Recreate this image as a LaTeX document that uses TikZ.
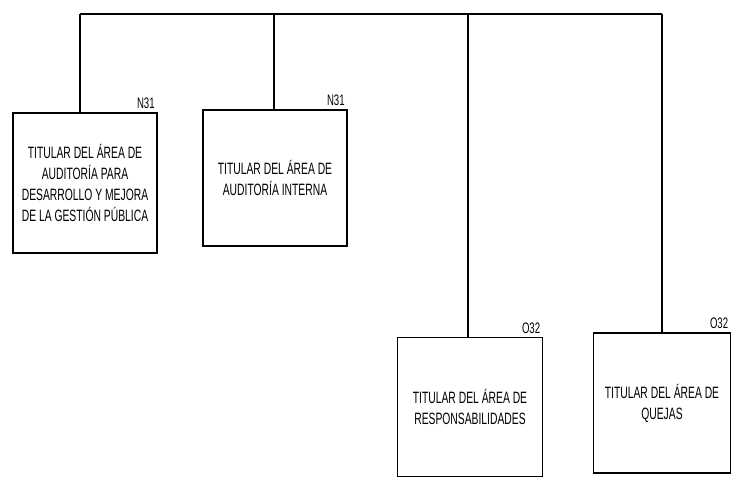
\documentclass[tikz,border=0pt]{standalone}
\usepackage{fontspec}
\newfontfamily\boxfont[FakeStretch=0.63]{Liberation Sans}
\usetikzlibrary{positioning}

\begin{document}
\begin{tikzpicture}[x=0.03cm,y=-0.03cm,line width=1.4pt,
 area/.style={draw,align=center,font=\boxfont\fontsize{14}{18}\selectfont,inner sep=0pt},
 code/.style={anchor=south east,font=\boxfont\fontsize{13}{13}\selectfont,inner sep=2pt}]
\useasboundingbox (0,0) rectangle (731,482);
% areas
\node[area,minimum width=4.32cm,minimum height=4.2cm] (aud) at (85,183)
 {TITULAR DEL ÁREA DE\\AUDITORÍA PARA\\DESARROLLO Y MEJORA\\DE LA GESTIÓN PÚBLICA};
\node[area,minimum width=4.32cm,minimum height=4.08cm] (int) at (275,178)
 {TITULAR DEL ÁREA DE\\AUDITORÍA INTERNA};
\node[area,minimum width=4.35cm,minimum height=4.17cm] (resp) at (470,407)
 {TITULAR DEL ÁREA DE\\RESPONSABILIDADES};
\node[area,minimum width=4.11cm,minimum height=4.2cm] (quej) at (662,403)
 {TITULAR DEL ÁREA DE\\QUEJAS};
% codes
\node[code] (caud) at (aud.north east) {N31};
\node[code] (cint) at (int.north east) {N31};
\node[code] (cresp) at (resp.north east) {O32};
\node[code] (cquej) at (quej.north east) {O32};
% bus
\coordinate (b1) at (80,14);
\coordinate (b2) at (274,14);
\coordinate (b3) at (468,14);
\coordinate (b4) at (662,14);
\draw (b1) -- (b4);
\draw (b1) -- (b1 |- aud.north);
\draw (b2) -- (b2 |- int.north);
\draw (b3) -- (b3 |- resp.north);
\draw (b4) -- (b4 |- quej.north);
\end{tikzpicture}
\end{document}
